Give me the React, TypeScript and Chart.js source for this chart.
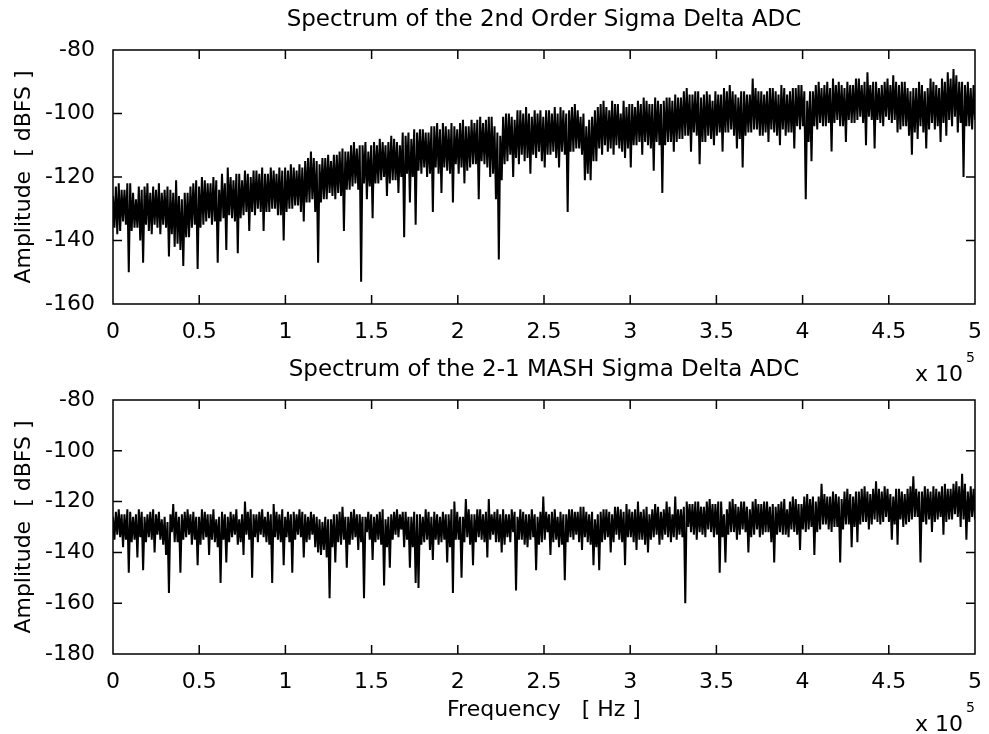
import React, { useEffect, useRef } from 'react';
import { Chart, registerables } from 'chart.js';

Chart.register(...registerables);

const FONT = "'DejaVu Sans', sans-serif";

// Frequency axis in units of 10^5 Hz
const FREQ_MAX = 5;
const X_TICK_STEP = 0.5;
const Y_TICK_STEP = 20;

const TOP_TITLE = 'Spectrum of the 2nd Order Sigma Delta ADC';
const BOTTOM_TITLE = 'Spectrum of the 2-1 MASH Sigma Delta ADC';
const Y_LABEL = 'Amplitude  [ dBFS ]';
const X_LABEL = 'Frequency   [ Hz ]';
const X_MULTIPLIER = 'x 10';
const X_MULTIPLIER_EXP = '5';

const TOP_Y_MIN = -160;
const TOP_Y_MAX = -80;
const BOTTOM_Y_MIN = -180;
const BOTTOM_Y_MAX = -80;

// Amplitude (dBFS) of the 2nd order modulator
const SECOND_ORDER_DB = [
  -126, -136, -123, -138, -122, -137, -124, -134,
  -124, -135, -122, -150, -122, -137, -125, -136,
  -127, -136, -123, -140, -124, -147, -123, -135,
  -122, -137, -125, -138, -123, -135, -124, -136,
  -122, -138, -125, -135, -124, -136, -123, -145,
  -124, -138, -125, -142, -121, -141, -126, -143,
  -127, -148, -125, -139, -125, -139, -123, -136,
  -122, -135, -121, -149, -123, -136, -120, -135,
  -121, -134, -122, -133, -122, -135, -120, -134,
  -121, -147, -124, -134, -119, -133, -122, -143,
  -117, -132, -120, -133, -121, -134, -119, -144,
  -119, -133, -121, -132, -118, -131, -119, -137,
  -120, -131, -118, -132, -118, -130, -119, -131,
  -117, -137, -119, -131, -119, -131, -117, -130,
  -118, -130, -119, -132, -117, -132, -118, -140,
  -117, -131, -118, -130, -116, -130, -117, -129,
  -118, -129, -116, -131, -117, -134, -115, -128,
  -114, -128, -112, -127, -114, -131, -115, -147,
  -116, -128, -114, -127, -114, -127, -113, -125,
  -115, -126, -113, -127, -113, -125, -112, -126,
  -111, -137, -112, -124, -112, -124, -110, -123,
  -109, -122, -111, -124, -110, -153, -110, -122,
  -109, -127, -112, -123, -110, -133, -109, -122,
  -110, -122, -108, -121, -109, -120, -110, -126,
  -109, -122, -107, -121, -108, -121, -109, -125,
  -110, -120, -106, -139, -107, -119, -106, -128,
  -108, -120, -105, -135, -106, -118, -105, -119,
  -105, -117, -106, -120, -106, -119, -104, -131,
  -104, -117, -103, -119, -105, -125, -103, -117,
  -104, -118, -105, -119, -103, -128, -104, -116,
  -105, -119, -103, -117, -102, -122, -104, -118,
  -104, -117, -102, -116, -103, -116, -102, -127,
  -101, -115, -103, -116, -102, -117, -101, -120,
  -101, -119, -104, -127, -106, -146, -107, -121,
  -101, -116, -100, -115, -100, -113, -101, -120,
  -102, -114, -99, -116, -99, -113, -100, -115,
  -98, -114, -100, -119, -101, -113, -99, -114,
  -100, -112, -99, -115, -101, -117, -99, -113,
  -99, -113, -100, -112, -98, -114, -100, -117,
  -98, -112, -99, -113, -100, -131, -99, -112,
  -98, -112, -97, -111, -99, -111, -101, -113,
  -100, -121, -104, -119, -102, -121, -101, -115,
  -99, -115, -98, -111, -97, -113, -96, -110,
  -98, -112, -99, -111, -96, -113, -97, -110,
  -97, -111, -100, -112, -96, -114, -98, -111,
  -97, -117, -97, -110, -98, -110, -96, -109,
  -97, -113, -95, -109, -96, -110, -97, -111,
  -97, -118, -95, -109, -96, -110, -97, -125,
  -96, -110, -95, -109, -95, -109, -96, -112,
  -94, -109, -95, -108, -95, -108, -93, -107,
  -92, -107, -94, -112, -94, -106, -93, -107,
  -93, -116, -95, -109, -94, -109, -93, -107,
  -94, -108, -96, -110, -93, -107, -94, -106,
  -94, -112, -92, -106, -93, -106, -91, -105,
  -93, -107, -94, -111, -95, -108, -93, -117,
  -93, -107, -94, -106, -94, -106, -89, -105,
  -92, -105, -93, -107, -93, -107, -94, -106,
  -93, -109, -92, -105, -92, -106, -93, -107,
  -94, -110, -91, -105, -92, -107, -94, -106,
  -93, -106, -92, -111, -92, -104, -91, -105,
  -91, -104, -93, -127, -96, -109, -93, -115,
  -93, -104, -91, -105, -90, -103, -92, -104,
  -91, -104, -90, -103, -92, -112, -89, -103,
  -91, -102, -90, -104, -91, -104, -92, -109,
  -90, -102, -91, -103, -91, -103, -89, -102,
  -89, -101, -91, -103, -90, -110, -87, -101,
  -91, -102, -90, -111, -90, -102, -92, -103,
  -91, -104, -90, -101, -89, -102, -91, -103,
  -88, -102, -90, -106, -91, -105, -90, -104,
  -90, -104, -92, -107, -93, -113, -92, -106,
  -92, -108, -90, -104, -91, -106, -93, -111,
  -92, -105, -89, -103, -90, -105, -91, -104,
  -92, -109, -89, -103, -90, -107, -87, -102,
  -89, -104, -86, -101, -88, -106, -90, -103,
  -90, -120, -91, -104, -90, -104, -92, -105,
  -91, -102,
];

// Amplitude (dBFS) of the 2-1 MASH modulator
const MASH_DB = [
  -126, -135, -124, -133, -123, -134, -125, -138,
  -125, -135, -123, -148, -124, -136, -126, -135,
  -125, -142, -123, -134, -124, -147, -126, -136,
  -125, -134, -124, -135, -123, -140, -125, -133,
  -124, -135, -127, -137, -126, -141, -128, -156,
  -125, -132, -121, -136, -124, -136, -126, -148,
  -125, -135, -124, -134, -123, -133, -125, -137,
  -124, -135, -126, -145, -126, -137, -123, -135,
  -124, -134, -125, -141, -125, -135, -123, -136,
  -127, -138, -126, -152, -124, -135, -125, -144,
  -126, -136, -124, -134, -125, -133, -123, -137,
  -127, -136, -125, -141, -120, -133, -124, -135,
  -123, -150, -125, -134, -125, -136, -124, -133,
  -123, -134, -126, -136, -124, -137, -125, -152,
  -121, -134, -124, -135, -125, -136, -123, -145,
  -126, -134, -124, -136, -125, -148, -124, -135,
  -125, -133, -123, -134, -124, -142, -125, -136,
  -126, -135, -124, -133, -125, -138, -126, -140,
  -127, -141, -128, -139, -126, -142, -127, -158,
  -127, -138, -125, -144, -125, -136, -124, -137,
  -122, -135, -126, -146, -126, -137, -124, -135,
  -123, -134, -125, -139, -125, -136, -126, -158,
  -126, -132, -124, -135, -125, -143, -126, -136,
  -125, -135, -124, -137, -123, -153, -127, -138,
  -126, -146, -125, -135, -124, -133, -123, -134,
  -125, -131, -124, -138, -124, -135, -126, -146,
  -126, -138, -124, -152, -125, -154, -125, -137,
  -126, -136, -123, -135, -124, -139, -126, -143,
  -124, -135, -125, -137, -126, -136, -124, -135,
  -125, -144, -125, -138, -123, -156, -120, -135,
  -124, -135, -126, -150, -126, -136, -119, -134,
  -123, -137, -125, -145, -125, -136, -123, -134,
  -123, -135, -125, -136, -124, -142, -119, -135,
  -125, -133, -124, -136, -123, -136, -125, -140,
  -123, -137, -125, -134, -125, -136, -123, -132,
  -124, -155, -126, -135, -123, -135, -124, -137,
  -125, -138, -125, -135, -123, -134, -125, -147,
  -126, -137, -124, -136, -118, -135, -124, -132,
  -125, -141, -124, -136, -123, -135, -126, -138,
  -124, -137, -125, -151, -125, -136, -123, -134,
  -123, -135, -124, -133, -124, -136, -122, -139,
  -122, -134, -124, -136, -125, -137, -124, -145,
  -127, -138, -125, -147, -124, -136, -123, -135,
  -123, -134, -124, -140, -125, -136, -122, -133,
  -122, -135, -123, -136, -124, -145, -121, -134,
  -123, -134, -124, -136, -123, -139, -120, -135,
  -124, -135, -123, -137, -122, -140, -125, -135,
  -123, -134, -121, -133, -122, -137, -124, -135,
  -123, -133, -120, -134, -122, -136, -125, -134,
  -118, -135, -123, -133, -123, -134, -122, -160,
  -120, -130, -121, -132, -121, -133, -120, -135,
  -120, -132, -122, -133, -122, -134, -120, -131,
  -119, -132, -121, -134, -121, -133, -120, -148,
  -120, -134, -125, -144, -123, -133, -120, -132,
  -119, -132, -121, -135, -122, -133, -120, -131,
  -120, -132, -122, -140, -123, -134, -120, -133,
  -119, -131, -121, -134, -121, -133, -120, -132,
  -120, -132, -122, -136, -121, -144, -122, -133,
  -121, -132, -120, -133, -119, -133, -123, -134,
  -120, -131, -118, -132, -119, -133, -121, -139,
  -121, -131, -118, -132, -117, -131, -119, -130,
  -118, -141, -120, -132, -118, -131, -113, -129,
  -117, -129, -118, -131, -118, -132, -116, -130,
  -117, -130, -118, -144, -119, -131, -116, -129,
  -115, -129, -117, -138, -118, -130, -116, -136,
  -116, -129, -115, -128, -114, -128, -116, -131,
  -117, -129, -115, -127, -112, -128, -115, -129,
  -116, -128, -114, -126, -115, -128, -117, -135,
  -118, -129, -115, -137, -115, -127, -116, -130,
  -117, -129, -115, -128, -114, -127, -110, -126,
  -115, -126, -116, -144, -116, -128, -114, -129,
  -115, -127, -116, -132, -114, -128, -115, -127,
  -116, -126, -114, -133, -113, -128, -115, -127,
  -115, -127, -113, -125, -112, -126, -114, -130,
  -109, -127, -113, -135, -116, -128, -114, -126,
  -115, -127,
];

// FFT bin spacing (units of 10^5 Hz)
const BIN_WIDTH = FREQ_MAX / (SECOND_ORDER_DB.length - 1);

const matlabFrame = {
  id: 'matlabFrame',
  afterDraw(chart: any, _args: any, opts: any) {
    const { ctx, chartArea: a } = chart;
    const xs = chart.scales.x;
    const ys = chart.scales.y;
    ctx.save();
    ctx.strokeStyle = '#000';
    ctx.lineWidth = 1.5;
    ctx.beginPath();
    ctx.rect(a.left, a.top, a.right - a.left, a.bottom - a.top);
    const L = 9;
    for (const t of xs.ticks) {
      const p = xs.getPixelForValue(t.value);
      ctx.moveTo(p, a.bottom);
      ctx.lineTo(p, a.bottom - L);
      ctx.moveTo(p, a.top);
      ctx.lineTo(p, a.top + L);
    }
    for (const t of ys.ticks) {
      const p = ys.getPixelForValue(t.value);
      ctx.moveTo(a.left, p);
      ctx.lineTo(a.left + L, p);
      ctx.moveTo(a.right, p);
      ctx.lineTo(a.right - L, p);
    }
    ctx.stroke();

    ctx.fillStyle = '#000';
    ctx.font = `23px ${FONT}`;
    ctx.textAlign = 'center';
    ctx.textBaseline = 'middle';
    ctx.fillText(opts.title, (a.left + a.right) / 2, a.top - 30);

    const by = a.bottom + 77;
    ctx.font = `22px ${FONT}`;
    ctx.textAlign = 'right';
    ctx.textBaseline = 'alphabetic';
    ctx.fillText(X_MULTIPLIER, a.right - 12, by);
    ctx.font = `14px ${FONT}`;
    ctx.textAlign = 'left';
    ctx.fillText(X_MULTIPLIER_EXP, a.right - 9, by - 19);
    ctx.restore();
  },
};

function makeConfig(
  values: number[],
  yMin: number,
  yMax: number,
  title: string,
  padTop: number,
  xAxisHeight: number,
  showXTitle: boolean
): any {
  return {
    type: 'line',
    data: {
      datasets: [
        {
          data: values.map((v, i) => ({ x: i * BIN_WIDTH, y: v })),
          borderColor: '#000',
          borderWidth: 2,
          borderJoinStyle: 'bevel',
          pointRadius: 0,
          tension: 0,
          fill: false,
        },
      ],
    },
    options: {
      animation: false,
      responsive: false,
      events: [],
      layout: { padding: { top: padTop, right: 9, left: 0, bottom: 0 } },
      plugins: {
        legend: { display: false },
        tooltip: { enabled: false },
        matlabFrame: { title },
      },
      scales: {
        x: {
          type: 'linear',
          min: 0,
          max: FREQ_MAX,
          afterFit: (s: any) => {
            s.height = xAxisHeight;
          },
          grid: { display: false },
          border: { display: false },
          ticks: {
            stepSize: X_TICK_STEP,
            autoSkip: false,
            maxRotation: 0,
            padding: 7,
            color: '#000',
            font: { size: 22, family: FONT },
            callback: (v: any) => String(v),
          },
          title: {
            display: showXTitle,
            text: X_LABEL,
            color: '#000',
            font: { size: 22, family: FONT },
            padding: { top: 0, bottom: 11 },
          },
        },
        y: {
          type: 'linear',
          min: yMin,
          max: yMax,
          afterFit: (s: any) => {
            s.width = 113;
          },
          grid: { display: false },
          border: { display: false },
          ticks: {
            stepSize: Y_TICK_STEP,
            padding: 10,
            color: '#000',
            font: { size: 22, family: FONT },
            callback: (v: any) => String(v),
          },
          title: {
            display: true,
            text: Y_LABEL,
            color: '#000',
            font: { size: 22, family: FONT },
            padding: { top: 11, bottom: 0 },
          },
        },
      },
    },
    plugins: [matlabFrame],
  };
}

export default function App() {
  const topRef = useRef<HTMLCanvasElement>(null);
  const bottomRef = useRef<HTMLCanvasElement>(null);

  useEffect(() => {
    Chart.defaults.color = '#000';
    Chart.defaults.font.family = FONT;
    const c1 = new Chart(
      topRef.current as HTMLCanvasElement,
      makeConfig(SECOND_ORDER_DB, TOP_Y_MIN, TOP_Y_MAX, TOP_TITLE, 50, 86, false)
    );
    const c2 = new Chart(
      bottomRef.current as HTMLCanvasElement,
      makeConfig(MASH_DB, BOTTOM_Y_MIN, BOTTOM_Y_MAX, BOTTOM_TITLE, 70, 80, true)
    );
    return () => {
      c1.destroy();
      c2.destroy();
    };
  }, []);

  return (
    <div
      style={{
        position: 'absolute',
        left: 0,
        top: 0,
        width: 989,
        height: 734,
        background: '#fff',
      }}
    >
      <canvas
        ref={topRef}
        width={989}
        height={390}
        style={{ position: 'absolute', left: 0, top: 0 }}
      />
      <canvas
        ref={bottomRef}
        width={989}
        height={404}
        style={{ position: 'absolute', left: 0, top: 330 }}
      />
    </div>
  );
}
